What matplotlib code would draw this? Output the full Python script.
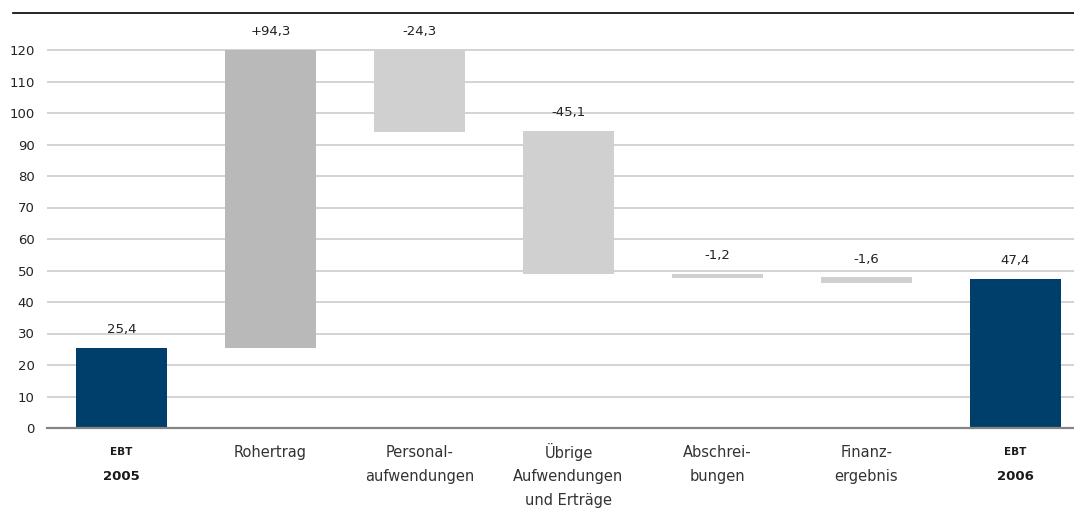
import numpy as np
import matplotlib.pyplot as plt
from matplotlib.lines import Line2D

# Daten (EBT-Überleitung 2005 -> 2006, Mio. EUR)
kategorien = [['EBT', '2005'], ['Rohertrag'], ['Personal-', 'aufwendungen'],
              ['Übrige', 'Aufwendungen', 'und Erträge'], ['Abschrei-', 'bungen'],
              ['Finanz-', 'ergebnis'], ['EBT', '2006']]
werte_text = ['25,4', '+94,3', '-24,3', '-45,1', '-1,2', '-1,6', '47,4']
# Balken von / bis, so wie sie im Bild stehen
von = [0, 25.4, 94.1, 49.0, 47.6, 46.1, 0]
bis = [25.4, 120.0, 120.0, 94.3, 48.9, 47.9, 47.3]
ist_ebt = [True, False, False, False, False, False, True]

blau = '#003f6c'
grau_dunkel = '#b9b9b9'
grau_hell = '#d0d0d0'
farben = [blau, grau_dunkel, grau_hell, grau_hell, grau_hell, grau_hell, blau]

plt.rcParams['font.family'] = ['DejaVu Sans']

fig = plt.figure(figsize=(10.74, 5.19), dpi=100)
# 120 Einheiten = 378 px, etwas Luft oben damit die 120er-Linie nicht abgeschnitten wird
ax = fig.add_axes([47/1074, 91/519, 1 - 47/1074, 378 * 120.3 / 120 / 519])

x = np.arange(len(kategorien))
hoehe = np.array(bis) - np.array(von)
ax.bar(x, hoehe, bottom=von, width=0.611, color=farben, zorder=3)

ax.set_xlim(-0.5, 6.393)
ax.set_ylim(0, 120.3)
ax.set_yticks(np.arange(0, 121, 10))
ax.tick_params(axis='y', length=0, pad=9, labelsize=9.5, labelcolor='#222222')
ax.set_xticks([])
ax.yaxis.grid(True, color='#d0d0d0', lw=1.3)
ax.set_axisbelow(True)
for s in ['top', 'right', 'left']:
    ax.spines[s].set_visible(False)
ax.spines['bottom'].set_color('#858585')
ax.spines['bottom'].set_linewidth(1.6)
ax.spines['bottom'].set_zorder(4)

# Werte über den Balken
for i in x:
    ax.annotate(werte_text[i], xy=(i, bis[i]), xytext=(0, 13), textcoords='offset points',
                ha='center', va='center', fontsize=9.5, color='#222222', annotation_clip=False)

# Kategorien unter der Achse
for i in x:
    for j, zeile in enumerate(kategorien[i]):
        if ist_ebt[i]:
            gr = 7.5 if j == 0 else 9.5
            ax.annotate(zeile, xy=(i, 0), xycoords=('data', 'axes fraction'),
                        xytext=(0, -17.3 - j * 17.3), textcoords='offset points',
                        ha='center', va='center', fontsize=gr, fontweight='bold',
                        color='#1a1a1a')
        else:
            ax.annotate(zeile, xy=(i, 0), xycoords=('data', 'axes fraction'),
                        xytext=(0, -17.3 - j * 17.3), textcoords='offset points',
                        ha='center', va='center', fontsize=10.5, color='#333333')

# Linie oben
fig.add_artist(Line2D([13/1074, 1], [1 - 13/519, 1 - 13/519], color='black', lw=1.2))

plt.savefig('out.png', dpi=100)
